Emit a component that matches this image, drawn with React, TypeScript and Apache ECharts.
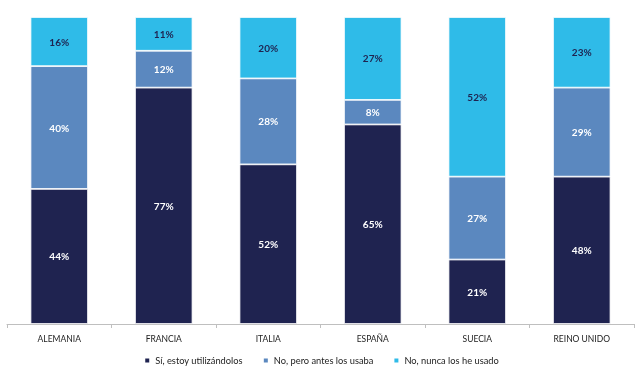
import React, { useEffect, useRef } from "react";
import * as echarts from "echarts";

const categories = ["ALEMANIA", "FRANCIA", "ITALIA", "ESPAÑA", "SUECIA", "REINO UNIDO"];
const usingNow = [44, 77, 52, 65, 21, 48];
const usedBefore = [40, 12, 28, 8, 27, 29];
const neverUsed = [16, 11, 20, 27, 52, 23];
const seriesNames = ["Sí, estoy utilizándolos", "No, pero antes los usaba", "No, nunca los he usado"];
const colors = ["#1f2350", "#5b88bf", "#2fbbe8"];
const labelColors = ["#ffffff", "#ffffff", "#1f2350"];

export default function App() {
  const ref = useRef<HTMLDivElement>(null);
  useEffect(() => {
    const chart = echarts.init(ref.current!, null, { renderer: "svg" });
    const data = [usingNow, usedBefore, neverUsed];
    chart.setOption({
      animation: false,
      textStyle: { fontFamily: "Lato, 'Open Sans', sans-serif" },
      grid: { left: 7, right: 8, top: 17, bottom: 50, containLabel: false },
      legend: {
        top: 351,
        left: "center",
        itemWidth: 6,
        itemHeight: 6,
        itemGap: 19,
        icon: "rect",
        textStyle: { fontSize: 9.3, color: "#222", fontFamily: "Lato, 'Open Sans', sans-serif" },
        data: seriesNames,
      },
      xAxis: {
        type: "category",
        data: categories,
        axisLine: { lineStyle: { color: "#bfbfbf" } },
        axisTick: { show: true, length: 4, lineStyle: { color: "#bfbfbf" } },
        axisLabel: { color: "#222", fontSize: 8.5, margin: 10 },
      },
      yAxis: {
        type: "value",
        min: 0,
        max: 100,
        show: false,
        splitLine: { show: false },
      },
      series: data.map((d, i) => ({
        name: seriesNames[i],
        type: "bar",
        stack: "total",
        barWidth: "55%",
        data: d,
        itemStyle: { color: colors[i], borderColor: "#ffffff", borderWidth: 0.8 },
        label: {
          show: true,
          position: "inside",
          formatter: "{c}%",
          color: labelColors[i],
          fontSize: 10,
          fontWeight: "bold",
        },
      })),
    });
    return () => chart.dispose();
  }, []);
  return <div ref={ref} style={{ position: "fixed", left: 0, top: 0, width: 642, height: 374 }} />;
}
